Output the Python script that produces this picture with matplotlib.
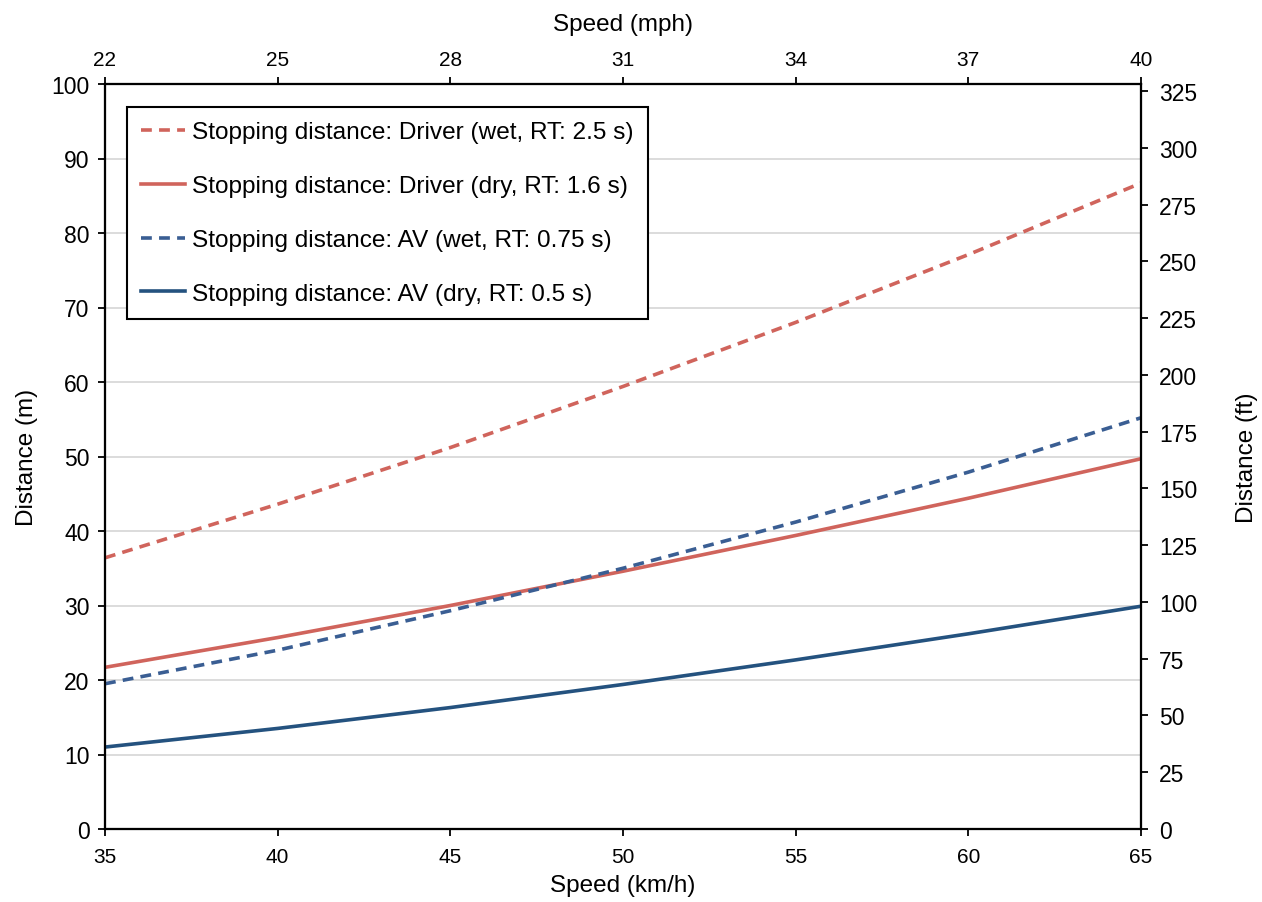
import matplotlib
matplotlib.use("Agg")
import matplotlib.pyplot as plt

plt.rcParams['font.family'] = ['Liberation Sans', 'DejaVu Sans']

speed_kmh = [35, 40, 45, 50, 55, 60, 65]
driver_wet = [36.4, 43.6, 51.2, 59.4, 68.0, 77.1, 86.7]
driver_dry = [21.7, 25.7, 30.0, 34.6, 39.4, 44.4, 49.7]
av_wet = [19.5, 24.0, 29.3, 35.0, 41.2, 47.9, 55.2]
av_dry = [11.0, 13.5, 16.3, 19.4, 22.7, 26.2, 29.9]

labels = [
    "Stopping distance: Driver (wet, RT: 2.5 s)",
    "Stopping distance: Driver (dry, RT: 1.6 s)",
    "Stopping distance: AV (wet, RT: 0.75 s)",
    "Stopping distance: AV (dry, RT: 0.5 s)",
]
mph_ticks = [22, 25, 28, 31, 34, 37, 40]
ft_ticks = [0, 25, 50, 75, 100, 125, 150, 175, 200, 225, 250, 275, 300, 325]
m_ticks = [0, 10, 20, 30, 40, 50, 60, 70, 80, 90, 100]
kmh_ticks = [35, 40, 45, 50, 55, 60, 65]

RED = "#D0645C"
BLUE_D = "#3A5E93"
BLUE_S = "#24527F"

fig = plt.figure(figsize=(12.62, 9.03), dpi=100)
ax = fig.add_axes([105/1262, 1-830/903, (1141-105)/1262, (830-85)/903])

lw = 2.6
ax.plot(speed_kmh, driver_wet, color=RED, lw=lw, dashes=(3.0, 2.0), label=labels[0], zorder=3)
ax.plot(speed_kmh, driver_dry, color=RED, lw=lw, label=labels[1], zorder=3)
ax.plot(speed_kmh, av_wet, color=BLUE_D, lw=lw, dashes=(3.0, 2.0), label=labels[2], zorder=3)
ax.plot(speed_kmh, av_dry, color=BLUE_S, lw=lw, label=labels[3], zorder=3)

ax.set_xlim(35, 65)
ax.set_ylim(0, 100)
ax.set_xticks(kmh_ticks)
ax.set_yticks(m_ticks)
ax.grid(axis='y', color='#D9D9D9', lw=1.3, zorder=0)
ax.set_axisbelow(True)

for s in ax.spines.values():
    s.set_linewidth(1.5)

ax.tick_params(axis='y', labelsize=16.5, direction='out', length=5, width=1.3, pad=6)
ax.tick_params(axis='x', labelsize=15, direction='out', length=5, width=1.3, pad=8)
ax.set_xlabel("Speed (km/h)", fontsize=17.5, labelpad=6)
ax.set_ylabel("Distance (m)", fontsize=17.5, labelpad=10)

ax2 = ax.twinx()
ax2.set_ylim(0, 100 * 3.28084)
ax2.set_yticks(ft_ticks)
ax2.tick_params(axis='y', labelsize=16.5, direction='out', length=5, width=1.3, pad=8)
ax2.set_ylabel("Distance (ft)", fontsize=17.5, labelpad=28)
for s in ax2.spines.values():
    s.set_linewidth(1.5)

ax3 = ax.twiny()
ax3.set_xlim(22, 40)
ax3.set_xticks(mph_ticks)
ax3.tick_params(axis='x', labelsize=15, direction='out', length=5, width=1.3, pad=6)
ax3.set_xlabel("Speed (mph)", fontsize=17.5, labelpad=14)
for s in ax3.spines.values():
    s.set_linewidth(1.5)

leg = ax.legend(loc='upper left', bbox_to_anchor=(0.021, 0.969), borderaxespad=0,
                fontsize=17.6, frameon=True, fancybox=False, edgecolor='black',
                framealpha=1, handlelength=1.8, handletextpad=0.3,
                labelspacing=1.3, borderpad=0.58)
leg.get_frame().set_linewidth(1.5)
leg.set_zorder(10)

fig.savefig("out.png", dpi=100)
